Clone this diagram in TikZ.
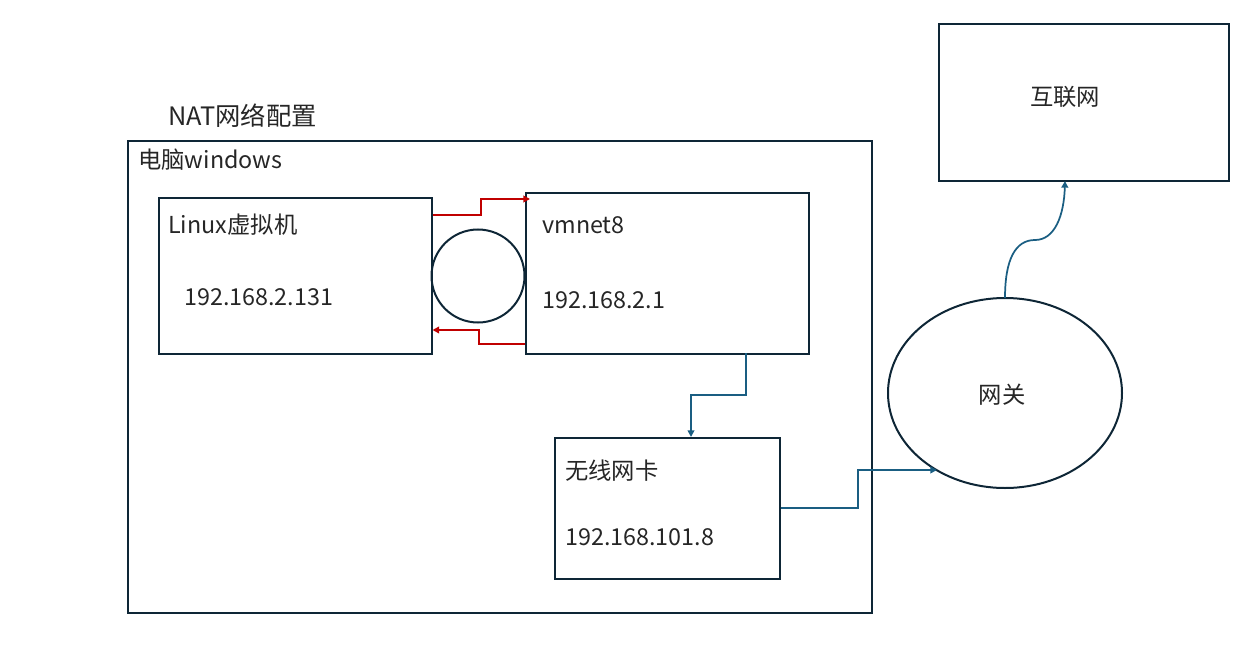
\documentclass[tikz,border=0pt]{standalone}
\usepackage{fontspec}
\setmainfont{Noto Sans CJK SC}
\usetikzlibrary{arrows.meta,shapes.geometric}
\definecolor{boxline}{RGB}{14,38,54}
\definecolor{redline}{RGB}{192,0,0}
\definecolor{blueline}{RGB}{26,94,130}
\begin{document}
\begin{tikzpicture}[x=0.75pt,y=-0.75pt,
  box/.style={draw=boxline,line width=1.5pt},
  txt/.style={font=\fontsize{17.5}{21}\selectfont,text=black!85},
  lbl/.style={txt,anchor=west,inner sep=0pt},
  redarr/.style={draw=redline,line width=1.3pt,-{Triangle[length=5pt,width=5pt]}},
  bluearr/.style={draw=blueline,line width=1.3pt,-{Triangle[length=5pt,width=5pt]}}]
\useasboundingbox (0,0) rectangle (1242,649);
\node[lbl,font=\fontsize{19}{23}\selectfont] (title) at (168,116) {NAT网络配置};
\draw[box] (128,141) rectangle (872,613);
\node[lbl] (pc) at (138,160) {电脑windows};
\node[box,minimum width=273*0.75pt,minimum height=155*0.75pt,inner sep=0pt,anchor=north west] (linux) at (157.5,197.5) {};
\node[lbl] (linuxt) at (168,225) {Linux虚拟机};
\node[lbl] (linuxip) at (184,297) {192.168.2.131};
\node[box,circle,minimum size=93*0.75pt,inner sep=0pt] (sw) at (478,276) {};
\node[box,minimum width=283*0.75pt,minimum height=160*0.75pt,inner sep=0pt,anchor=north west] (vm) at (524.5,192.5) {};
\node[lbl] (vmt) at (542,225) {vmnet8};
\node[lbl] (vmip) at (542,300) {192.168.2.1};
\node[box,minimum width=225*0.75pt,minimum height=141*0.75pt,inner sep=0pt,anchor=north west] (nic) at (553.5,437) {};
\node[lbl] (nict) at (565,471) {无线网卡};
\node[lbl] (nicip) at (565,537) {192.168.101.8};
\node[box,ellipse,minimum width=234*0.75pt,minimum height=190*0.75pt,inner sep=0pt] (gw) at (1005,393) {};
\node[txt] (gwt) at (1002,395) {网关};
\node[box,minimum width=290*0.75pt,minimum height=157*0.75pt,inner sep=0pt,anchor=north west] (net) at (937.5,23.5) {};
\node[txt] (nett) at (1065,97) {互联网};
\coordinate (r1a) at (linux.east |- 0,215);
\coordinate (r1b) at (530,199);
\draw[redarr] (r1a) -- (481,215) -- (481,199) -- (r1b);
\coordinate (r2a) at (vm.west |- 0,344);
\coordinate (r2b) at (linux.east |- 0,330);
\draw[redarr] (r2a) -- (479,344) -- (479,330) -- (r2b);
\coordinate (b1a) at (746,353);
\coordinate (b1b) at (691,437);
\draw[bluearr] (b1a) -- (746,395) -- (691,395) -- (b1b);
\coordinate (b2a) at (nic.east |- 0,508);
\coordinate (b2b) at (937,470);
\draw[bluearr] (b2a) -- (858,508) -- (858,470) -- (b2b);
\coordinate (c1) at (1005,298);
\coordinate (c2) at (1065,181);
\draw[bluearr] (c1) .. controls (1005,260) and (1015,240) .. (1035,240) .. controls (1055,240) and (1064,215) .. (c2);
\end{tikzpicture}
\end{document}
